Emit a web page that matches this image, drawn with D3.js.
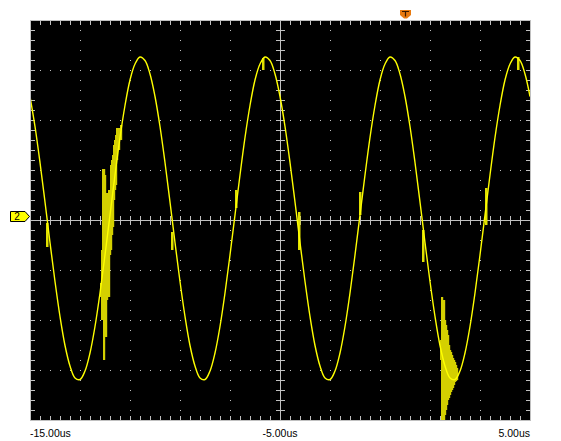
<!DOCTYPE html>
<html><head><meta charset="utf-8">
<script src="https://cdn.jsdelivr.net/npm/d3@7"></script>
<style>html,body{margin:0;padding:0;background:#fff;}svg{display:block;}</style>
</head><body>
<svg id="c" width="561" height="441"></svg>
<script>
// ---- data ----
const timeStart = -15;      // us
const sampleStep = 0.2;     // us
// channel 2 samples, in divisions
const ch2 = [
 2.47,1.87,1.15,0.36,-0.45,-1.23,-1.93,-2.51,-2.92,-3.16,-3.19,-3.02,-2.66,-2.13,-1.46,-0.70,0.10,0.90,1.65,2.29,2.80,3.12,3.26,3.19,2.92,
 2.47,1.87,1.15,0.36,-0.45,-1.23,-1.93,-2.51,-2.92,-3.16,-3.19,-3.02,-2.66,-2.13,-1.46,-0.70,0.10,0.90,1.65,2.29,2.80,3.12,3.26,3.19,2.92,
 2.47,1.87,1.15,0.36,-0.45,-1.23,-1.93,-2.51,-2.92,-3.16,-3.19,-3.02,-2.66,-2.13,-1.46,-0.70,0.10,0.90,1.65,2.29,2.80,3.12,3.26,3.19,2.92,
 2.47,1.87,1.15,0.36,-0.45,-1.23,-1.93,-2.51,-2.92,-3.16,-3.19,-3.02,-2.66,-2.13,-1.46,-0.70,0.10,0.90,1.65,2.29,2.80,3.12,3.26,3.19,2.92,
 2.47
];
// noise burst envelopes: [time us, top div, bottom div]
const burst1 = [
 [-12.20,-1.26,-1.54],[-12.16,-0.60,-2.00],[-12.12,1.02,-2.00],[-12.08,1.02,-2.80],
 [-12.04,0.90,-2.00],[-12.00,0.54,-2.34],[-11.96,0.54,-1.60],[-11.92,0.54,-1.00],
 [-11.88,0.60,-1.54],[-11.84,0.60,-0.70],[-11.80,1.10,-0.60],[-11.76,1.20,-0.30],
 [-11.72,1.30,-0.14],[-11.68,1.50,0.40],[-11.64,1.60,0.60],[-11.60,1.70,0.70],
 [-11.56,1.84,1.20],[-11.48,1.84,1.40],[-11.40,1.90,1.60]
];
const burst2 = [
 [1.40,-2.40,-2.80],[1.44,-1.54,-4.00],[1.48,-1.80,-4.00],[1.52,-1.60,-4.00],
 [1.56,-2.00,-3.90],[1.60,-2.10,-3.80],[1.64,-2.20,-3.70],[1.68,-2.30,-3.60],
 [1.72,-2.50,-3.56],[1.76,-2.60,-3.50],[1.80,-2.64,-3.44],[1.84,-2.70,-3.40],
 [1.88,-2.76,-3.36],[1.92,-2.80,-3.30],[1.96,-2.84,-3.24],[2.00,-2.90,-3.22],[2.04,-2.96,-3.20]
];
// short glitches near the zero crossings and peaks: [time us, top div, bottom div]
const glitches = [
 [-14.32,-0.06,-0.54],[-9.32,-0.24,-0.60],[-6.76,0.60,0.24],[-4.24,0.16,-0.60],
 [-1.80,0.56,0.10],[0.72,-0.20,-0.84],[3.24,0.64,-0.10],[-5.68,3.24,3.00],[4.52,3.26,3.00]
];
const xTickTimes = [-15, -5, 5];
const xTickLabels = ["-15.00us", "-5.00us", "5.00us"];
const triggerTime = 0;      // us
const ch2Ground = 0.07;     // div
const ch2Label = "2";

// ---- layout ----
const svg = d3.select("#c");
const x = d3.scaleLinear().domain([-15, 5]).range([30, 530]);
const y = d3.scaleLinear().domain([-4, 4]).range([420, 20]);
const grey = "#c0c0c0";

svg.append("rect").attr("x", x(-15)).attr("y", y(4)).attr("width", x(5) - x(-15)).attr("height", y(-4) - y(4)).attr("fill", "#000");

const g = svg.append("g").attr("shape-rendering", "crispEdges");
const divX = d3.range(-15, 5.001, 2);
const divY = d3.range(-4, 4.001, 1);
const minorX = d3.range(-15, 5.001, 0.4);
const minorY = d3.range(-4, 4.001, 0.2);

// dotted grid
const dots = [];
divX.filter(t => t > -15 && t < 5 && Math.abs(t + 5) > 1e-6).forEach(t => minorY.forEach(v => dots.push([t, v])));
divY.filter(v => v > -4 && v < 4 && Math.abs(v) > 1e-6).forEach(v => minorX.forEach(t => dots.push([t, v])));
g.selectAll("rect.dot").data(dots).join("rect").attr("class", "dot")
  .attr("x", d => Math.round(x(d[0]))).attr("y", d => Math.round(y(d[1])))
  .attr("width", 1).attr("height", 1).attr("fill", grey);

// centre cross
g.append("line").attr("x1", x(-15)).attr("x2", x(5)).attr("y1", y(0) + 0.5).attr("y2", y(0) + 0.5).attr("stroke", grey);
g.append("line").attr("x1", x(-5) + 0.5).attr("x2", x(-5) + 0.5).attr("y1", y(4)).attr("y2", y(-4)).attr("stroke", grey);
g.selectAll("line.cx").data(minorX).join("line").attr("class", "cx")
  .attr("x1", d => Math.round(x(d)) + 0.5).attr("x2", d => Math.round(x(d)) + 0.5)
  .attr("y1", y(0) - 4).attr("y2", y(0) + 5).attr("stroke", grey);
g.selectAll("line.cy").data(minorY).join("line").attr("class", "cy")
  .attr("y1", d => Math.round(y(d)) + 0.5).attr("y2", d => Math.round(y(d)) + 0.5)
  .attr("x1", x(-5) - 4).attr("x2", x(-5) + 5).attr("stroke", grey);

// edge ticks
g.selectAll("line.tt").data(minorX).join("line").attr("class", "tt")
  .attr("x1", d => Math.round(x(d)) + 0.5).attr("x2", d => Math.round(x(d)) + 0.5)
  .attr("y1", y(4)).attr("y2", y(4) + 5).attr("stroke", grey);
g.selectAll("line.tb").data(minorX).join("line").attr("class", "tb")
  .attr("x1", d => Math.round(x(d)) + 0.5).attr("x2", d => Math.round(x(d)) + 0.5)
  .attr("y1", y(-4) - 4).attr("y2", y(-4)).attr("stroke", grey);
g.selectAll("line.tl").data(minorY).join("line").attr("class", "tl")
  .attr("y1", d => Math.round(y(d)) + 0.5).attr("y2", d => Math.round(y(d)) + 0.5)
  .attr("x1", x(-15)).attr("x2", x(-15) + 5).attr("stroke", grey);
g.selectAll("line.tr").data(minorY).join("line").attr("class", "tr")
  .attr("y1", d => Math.round(y(d)) + 0.5).attr("y2", d => Math.round(y(d)) + 0.5)
  .attr("x1", x(5) - 4).attr("x2", x(5)).attr("stroke", grey);

// border
g.append("rect").attr("x", x(-15) + 0.5).attr("y", y(4) + 0.5).attr("width", x(5) - x(-15)).attr("height", y(-4) - y(4))
  .attr("fill", "none").attr("stroke", grey);

// clip
svg.append("clipPath").attr("id", "pc").append("rect")
  .attr("x", x(-15) + 1).attr("y", y(4) + 1).attr("width", x(5) - x(-15) - 1).attr("height", y(-4) - y(4) - 1);
const tr = svg.append("g").attr("clip-path", "url(#pc)");

// bursts
const bw = x(0.04) - x(0);
tr.selectAll("rect.b").data(burst1.concat(burst2)).join("rect").attr("class", "b")
  .attr("x", d => x(d[0])).attr("width", bw + 1.2)
  .attr("y", d => y(d[1])).attr("height", d => y(d[2]) - y(d[1]))
  .attr("fill", "#d4d000");
tr.selectAll("rect.gl").data(glitches).join("rect").attr("class", "gl")
  .attr("x", d => x(d[0]) - 1).attr("width", 2.5)
  .attr("y", d => y(d[1])).attr("height", d => y(d[2]) - y(d[1]))
  .attr("fill", "#e0e000");

// trace
const line = d3.line()
  .x((d, i) => x(timeStart + i * sampleStep))
  .y(d => y(d))
  .curve(d3.curveCatmullRom);
tr.append("path").datum(ch2).attr("d", line).attr("fill", "none")
  .attr("stroke", "#ffff00").attr("stroke-width", 1.4);

// trigger marker
const tx = Math.round(x(triggerTime));
svg.append("path").attr("d", `M${tx - 5},10 H${tx + 6} V15 L${tx + 2},18.5 H${tx - 1} L${tx - 5},15 Z`).attr("fill", "#e87a10");
svg.append("path").attr("d", `M${tx - 3},11.5 H${tx + 4} M${tx + 0.5},11 V16.5`).attr("stroke", "#3a1a00").attr("stroke-width", 1.2).attr("fill", "none");

// ch2 ground marker
const gy = y(ch2Ground);
svg.append("path").attr("d", `M10.5,${gy - 5} H25 L29.5,${gy} L25,${gy + 5} H10.5 Z`)
  .attr("fill", "#ffff00").attr("stroke", "#000").attr("stroke-width", 1);
svg.append("text").attr("x", 17).attr("y", gy + 3.5).attr("text-anchor", "middle")
  .attr("font-family", "Liberation Sans, Arial, sans-serif").attr("font-size", 10).attr("fill", "#000").text(ch2Label);

// time labels
svg.selectAll("text.xl").data(xTickTimes).join("text").attr("class", "xl")
  .attr("x", d => x(d)).attr("y", 437)
  .attr("text-anchor", (d, i) => i === 0 ? "start" : (i === xTickTimes.length - 1 ? "end" : "middle"))
  .attr("font-family", "Liberation Sans, Arial, sans-serif").attr("font-size", 10.5).attr("fill", "#000")
  .text((d, i) => xTickLabels[i]);
</script>
</body></html>
